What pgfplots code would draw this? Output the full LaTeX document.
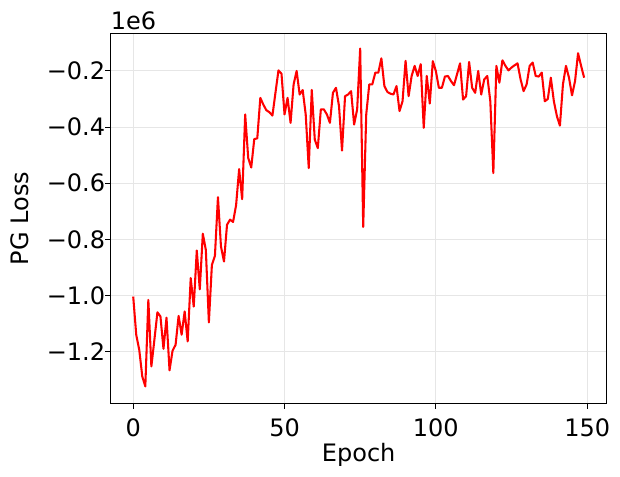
\documentclass[border=0pt]{standalone}
\usepackage{fontspec}
\setmainfont{DejaVu Sans}
\usepackage{pgfplots}
\pgfplotsset{compat=1.18}
\newcommand\lbl{\fontsize{18}{21}\selectfont}
\definecolor{gridc}{HTML}{E6E6E6}
\begin{document}
\begin{tikzpicture}
\begin{axis}[
  scale only axis,
  width=372pt, height=277.5pt,
  xmin=-7.45, xmax=156.45,
  ymin=-1.3845, ymax=-0.066,
  axis lines=box,
  axis line style={black, line width=0.8pt},
  tick align=outside,
  major tick length=4pt,
  tick style={black, line width=0.8pt},
  xtick={0,50,100,150},
  xticklabels={0,50,100,150},
  ytick={-1.2,-1.0,-0.8,-0.6,-0.4,-0.2},
  yticklabels={−1.2,−1.0,−0.8,−0.6,−0.4,−0.2},
  tick pos=left,
  grid=major,
  major grid style={gridc, line width=0.8pt},
  xticklabel style={font=\lbl, anchor=base, inner sep=0pt, yshift=-20.5pt},
  yticklabel style={font=\lbl, anchor=east, inner sep=0pt},
  every axis x label/.style={at={(axis description cs:0.5,0)}, anchor=base, yshift=-43.3pt, font=\lbl},
  every axis y label/.style={at={(axis description cs:0,0.5)}, xshift=-61.5pt, rotate=90, anchor=base, font=\lbl},
  xlabel={Epoch},
  ylabel={PG Loss},
  clip mode=individual,
  after end axis/.code={
    \draw[black, line width=0.8pt] (rel axis cs:0,0) rectangle (rel axis cs:1,1);
    \node[font=\lbl, anchor=base west, inner sep=0pt] at ([yshift=3pt]rel axis cs:0,1) {1e6};
  },
]
\addplot[red, line width=1.55pt, line join=round] coordinates {
(0,-1.004) (1,-1.140) (2,-1.194) (3,-1.289) (4,-1.324) (5,-1.016) (6,-1.253) (7,-1.158) (8,-1.060) (9,-1.075)
(10,-1.190) (11,-1.079) (12,-1.267) (13,-1.197) (14,-1.176) (15,-1.073) (16,-1.140) (17,-1.057) (18,-1.164) (19,-0.938)
(20,-1.040) (21,-0.840) (22,-0.978) (23,-0.780) (24,-0.838) (25,-1.096) (26,-0.891) (27,-0.859) (28,-0.650) (29,-0.826)
(30,-0.879) (31,-0.748) (32,-0.730) (33,-0.738) (34,-0.678) (35,-0.550) (36,-0.657) (37,-0.355) (38,-0.510) (39,-0.544)
(40,-0.443) (41,-0.440) (42,-0.296) (43,-0.320) (44,-0.340) (45,-0.347) (46,-0.359) (47,-0.278) (48,-0.198) (49,-0.210)
(50,-0.355) (51,-0.296) (52,-0.385) (53,-0.248) (54,-0.200) (55,-0.284) (56,-0.268) (57,-0.355) (58,-0.546) (59,-0.268)
(60,-0.445) (61,-0.475) (62,-0.337) (63,-0.337) (64,-0.355) (65,-0.385) (66,-0.278) (67,-0.260) (68,-0.325) (69,-0.484)
(70,-0.290) (71,-0.284) (72,-0.272) (73,-0.391) (74,-0.337) (75,-0.120) (76,-0.756) (77,-0.355) (78,-0.248) (79,-0.248)
(80,-0.206) (81,-0.206) (82,-0.155) (83,-0.254) (84,-0.275) (85,-0.281) (86,-0.284) (87,-0.254) (88,-0.343) (89,-0.308)
(90,-0.164) (91,-0.290) (92,-0.218) (93,-0.182) (94,-0.218) (95,-0.176) (96,-0.403) (97,-0.218) (98,-0.316) (99,-0.165)
(100,-0.200) (101,-0.260) (102,-0.260) (103,-0.220) (104,-0.218) (105,-0.236) (106,-0.251) (107,-0.212) (108,-0.173) (109,-0.302)
(110,-0.290) (111,-0.168) (112,-0.260) (113,-0.278) (114,-0.200) (115,-0.284) (116,-0.230) (117,-0.218) (118,-0.308) (119,-0.564)
(120,-0.182) (121,-0.242) (122,-0.162) (123,-0.182) (124,-0.198) (125,-0.188) (126,-0.180) (127,-0.173) (128,-0.230) (129,-0.272)
(130,-0.248) (131,-0.182) (132,-0.170) (133,-0.218) (134,-0.220) (135,-0.206) (136,-0.308) (137,-0.300) (138,-0.224) (139,-0.308)
(140,-0.361) (141,-0.395) (142,-0.248) (143,-0.182) (144,-0.224) (145,-0.287) (146,-0.236) (147,-0.137) (148,-0.182) (149,-0.224)
};
\end{axis}
\pgfresetboundingbox
\path (-83pt,-54.5pt) rectangle (382pt,302.5pt);
\end{tikzpicture}
\end{document}
